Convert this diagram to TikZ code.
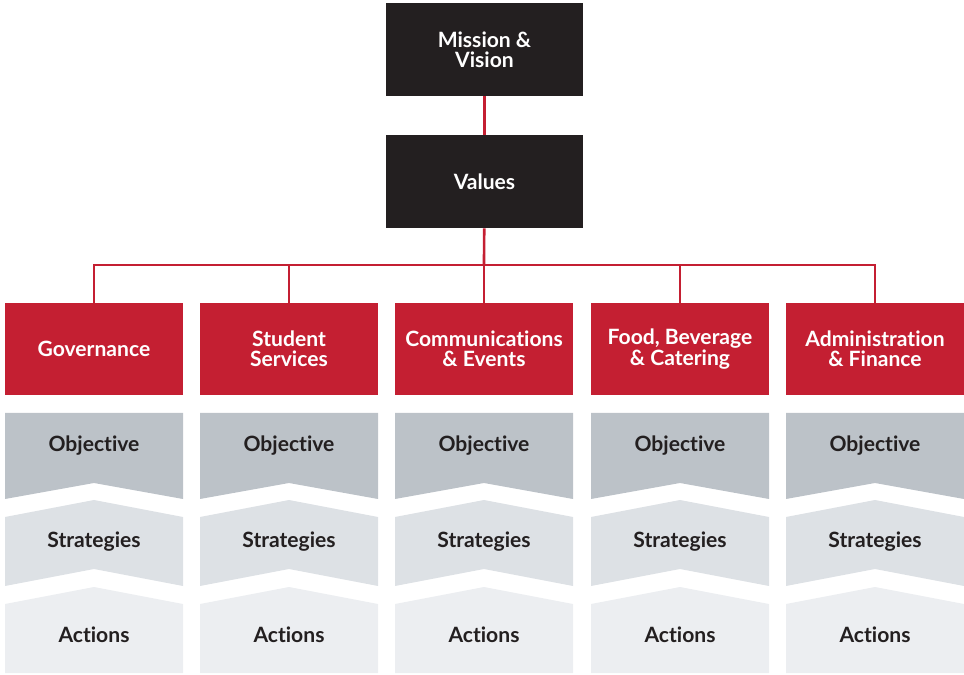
\documentclass[tikz,border=0pt]{standalone}
\usepackage{fontspec}
\setmainfont{Lato}[Ligatures=NoCommon]
\usepackage{tikz}
\definecolor{darkbox}{HTML}{231F20}
\definecolor{redbox}{HTML}{C41F32}
\definecolor{objgray}{HTML}{BCC2C8}
\definecolor{strgray}{HTML}{DDE1E5}
\definecolor{actgray}{HTML}{ECEEF1}
\tikzstyle{topbox}=[fill=darkbox, text=white, font=\bfseries\fontsize{12}{11.5}\selectfont,
                align=center, minimum width=3.94cm, minimum height=1.86cm, inner sep=0]
\tikzstyle{unit}=[fill=redbox, text=white, font=\bfseries\fontsize{12}{11.5}\selectfont,
                align=center, minimum width=3.56cm, minimum height=1.84cm, inner sep=0]
\tikzstyle{level}=[text=darkbox, font=\bfseries\fontsize{12}{11.5}\selectfont, inner sep=0]
\tikzstyle{link}=[draw=redbox, line width=1.5pt]

\begin{document}
\begin{tikzpicture}[x=0.02cm, y=-0.02cm]
\path[use as bounding box] (0,0) rectangle (964,675);
\node[topbox] (mv) at (484.5,49.5) {Mission \&\\Vision};
\node[topbox] (val) at (484.5,181.5) {Values};
\node[unit] (gov) at (94,349) {Governance};
\node[unit] (stu) at (289,349) {Student\\Services};
\node[unit] (com) at (484,349) {Communications\\\& Events};
\node[unit] (fbc) at (680,349) {Food, Beverage\\\& Catering};
\node[unit] (adm) at (875,349) {Administration\\\& Finance};
\coordinate (bus) at (484,265);
\path[link] (mv) -- (val);
\path[link] (val) -- (bus);
\foreach \u in {gov,stu,com,fbc,adm}
  \path[link] (bus) -| (\u.north);
% objective / strategies / actions chevrons
\foreach \u/\cx in {gov/94,stu/289,com/484,fbc/680,adm/875}{
  \fill[objgray] (\cx-89,413) -- (\cx+89,413) -- (\cx+89,499) -- (\cx,483)
    -- (\cx-89,499) -- cycle;
  \fill[strgray] (\cx-89,517) -- (\cx,500) -- (\cx+89,517) -- (\cx+89,586)
    -- (\cx,569) -- (\cx-89,586) -- cycle;
  \fill[actgray] (\cx-89,604) -- (\cx,587) -- (\cx+89,604) -- (\cx+89,673)
    -- (\cx-89,673) -- cycle;
  \node[level] (\u-obj) at (\cx,446) {Objective};
  \node[level] (\u-str) at (\cx,542) {Strategies};
  \node[level] (\u-act) at (\cx,635) {Actions};
}
\end{tikzpicture}
\end{document}
